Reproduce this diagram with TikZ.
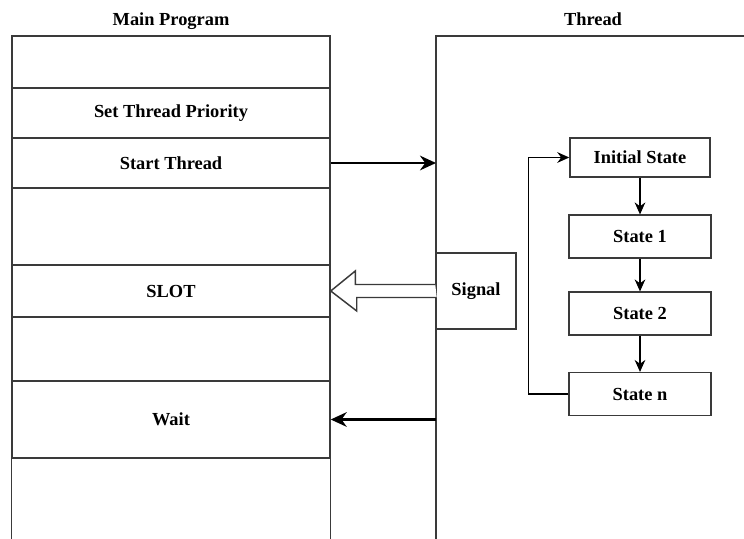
\documentclass[tikz,border=0pt]{standalone}
\usepackage{fontspec}
\setmainfont{Liberation Serif}[BoldFont={Liberation Serif Bold}]
\usepackage{tikz}
\usetikzlibrary{arrows.meta,calc}
\usepackage{xcolor}
\definecolor{linegray}{HTML}{3a3a3a}
\newcommand{\lbl}{\fontsize{13.8}{16}\selectfont\bfseries}

\tikzset{
  row/.style={draw=linegray, line width=1.1pt, minimum width=238.5pt, inner sep=0pt, font=\lbl},
  stbox/.style={draw=linegray, line width=1.1pt, minimum width=106.5pt, minimum height=32pt, inner sep=0pt, font=\lbl},
  flow/.style={-{Stealth[length=9pt,width=8pt]}, line width=1.1pt, draw=black},
  bigflow/.style={-{Stealth[length=12pt,width=11pt]}, line width=1.6pt, draw=black},
}

\begin{document}
\begin{tikzpicture}[x=0.75pt,y=-0.75pt]
  \useasboundingbox (0,0) rectangle (744,539);
  % titles
  \node[font=\lbl] (maintitle) at (171,21) {Main Program};
  \node[font=\lbl] (threadtitle) at (593,19) {Thread};
  % main program rows, top to bottom
  \node[row, minimum height=39pt]    (blank1) at (171,62)    {};
  \node[row, minimum height=37.5pt]  (prio)   at (171,113)   {Set Thread Priority};
  \node[row, minimum height=37.5pt]  (start)  at (171,163)   {Start Thread};
  \node[row, minimum height=57.75pt] (blank2) at (171,226.5) {};
  \node[row, minimum height=39pt]    (slot)   at (171,291)   {SLOT};
  \node[row, minimum height=48pt]    (blank3) at (171,349)   {};
  \node[row, minimum height=57.75pt] (wait)   at (171,419.5) {Wait};
  \draw[linegray, line width=1.1pt] (wait.south west) -- ++(0,90) (wait.south east) -- ++(0,90);
  % thread column, open at right and bottom
  \draw[linegray, line width=1.1pt] (750,36) -- (436,36) coordinate (threadtop) -- (436,545);
  \coordinate (tin)  at (436,163);
  \coordinate (tout) at (436,419.5);
  \node[stbox, minimum width=60pt, minimum height=57pt] (signal) at (476,291) {Signal};
  % main <-> thread
  \draw[bigflow] (start.east) -- (tin);
  \draw[bigflow] (tout) -- (wait.east);
  \draw[linegray, line width=1.1pt, fill=white] (signal.west) ++(0,-6.5) -- ++(-80,0) -- ++(0,-13.5)
    -- (slot.east) -- ++(26,20) -- ++(0,-13.5) -- ++(80,0);
  % state machine
  \node[stbox, minimum width=105pt, minimum height=29.25pt] (init) at (640,157.5) {Initial State};
  \node[stbox] (st1) at (640,236.5) {State 1};
  \node[stbox] (st2) at (640,313.5) {State 2};
  \node[stbox] (stn) at (640,394)   {State n};
  \foreach \a/\b in {init/st1, st1/st2, st2/stn}
    \draw[flow] (\a) -- (\b);
  \draw[flow] (stn.west) -- ++(-40,0) |- (init.west);
\end{tikzpicture}
\end{document}
